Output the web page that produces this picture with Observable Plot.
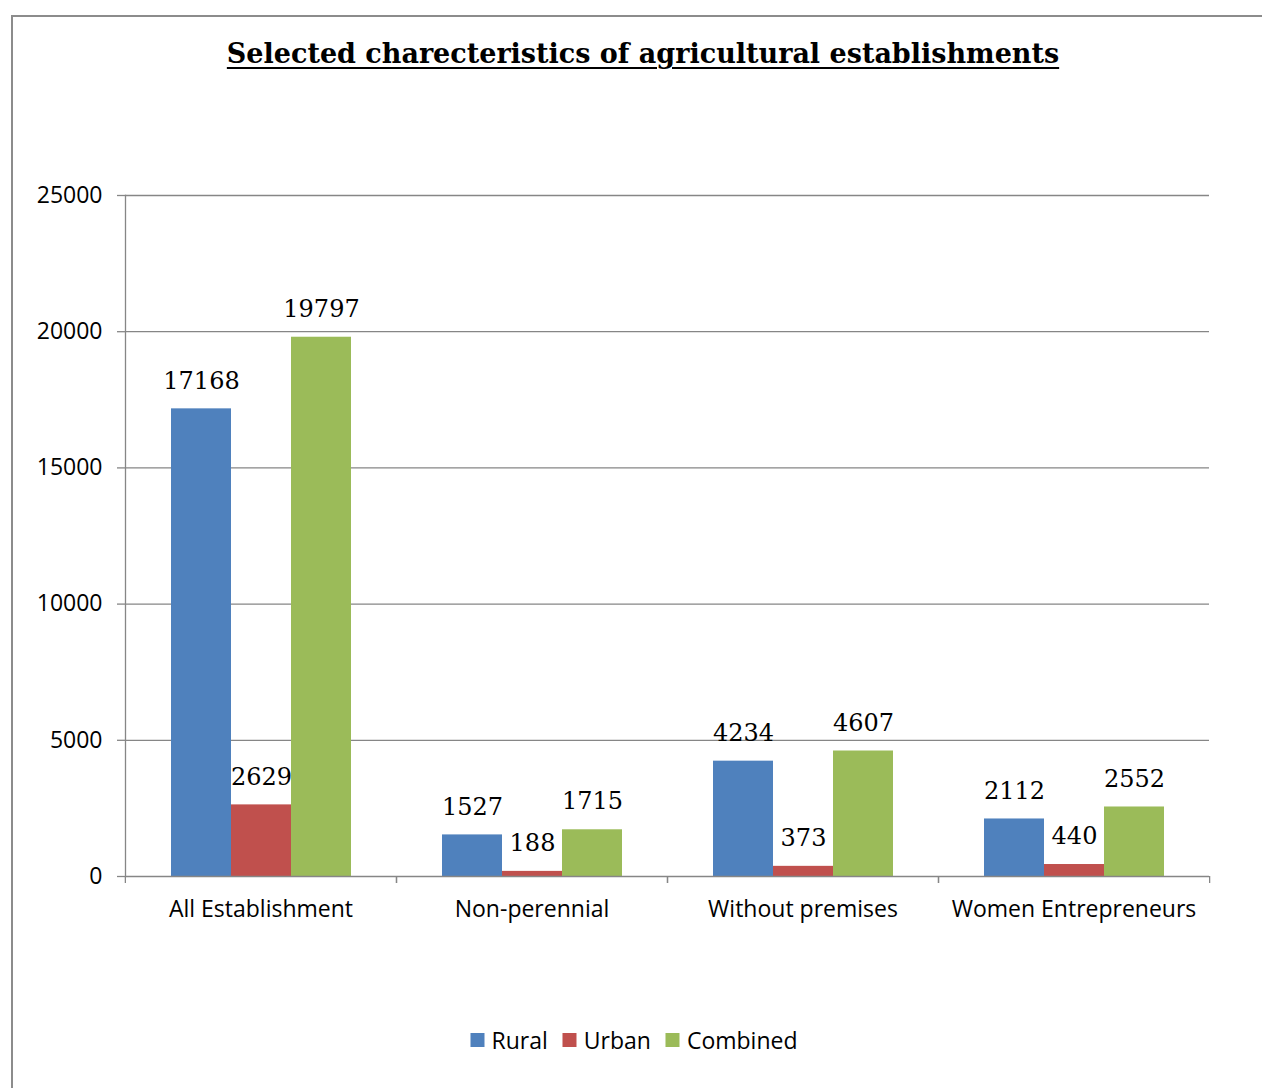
<!DOCTYPE html>
<html>
<head>
<meta charset="utf-8">
<script src="https://cdn.jsdelivr.net/npm/d3@7"></script>
<script src="https://cdn.jsdelivr.net/npm/@observablehq/plot@0.6"></script>
<style>
  html, body { margin: 0; padding: 0; background: #fff; }
  body { width: 1262px; height: 1088px; position: relative; overflow: hidden; }
  #frame { position: absolute; left: 11px; top: 15px; width: 1400px; height: 1200px; border: 2px solid #8c8c8c; box-sizing: border-box; }
  #title { position: absolute; top: 38px; left: 643px; transform: translateX(-50%); white-space: nowrap;
           font-family: "DejaVu Serif", serif; font-weight: bold; font-size: 27px; letter-spacing: 0px;
           text-decoration: underline; text-decoration-thickness: 2px; text-underline-offset: 4px; color: #000; }
  #chart { position: absolute; left: 0; top: 0; }
  #legend { position: absolute; top: 1024px; left: 634px; transform: translateX(-50%); display: flex; gap: 15px;
            font-family: "Open Sans", sans-serif; font-size: 23px; color: #000; white-space: nowrap; align-items: center; }
  #legend .item { display: flex; align-items: center; gap: 7px; }
  #legend .sw { width: 14px; height: 14px; display: inline-block; }
</style>
</head>
<body>
<div id="frame"></div>
<div id="title">Selected charecteristics of agricultural establishments</div>
<div id="chart"></div>
<div id="legend"></div>
<script>
const categories = ["All Establishment", "Non-perennial", "Without premises", "Women Entrepreneurs"];
const series = ["Rural", "Urban", "Combined"];
const rural = [17168, 1527, 4234, 2112];
const urban = [2629, 188, 373, 440];
const combined = [19797, 1715, 4607, 2552];
const colors = ["#4F81BD", "#C0504D", "#9BBB59"];
const yTicks = [0, 5000, 10000, 15000, 20000, 25000];

const seriesValues = [rural, urban, combined];
const data = [];
categories.forEach((c, i) => {
  series.forEach((s, j) => {
    data.push({category: c, series: s, value: seriesValues[j][i]});
  });
});

const W = 1262, H = 960;
const mL = 124, mR = 53, mT = 195, mB = 84;
const halfStep = (W - mL - mR) / categories.length / 2;
const axisColor = "#868686";

const chart = Plot.plot({
  width: W,
  height: H,
  marginLeft: mL,
  marginRight: mR,
  marginTop: mT,
  marginBottom: mB,
  style: {background: "transparent", overflow: "visible"},
  fx: {domain: categories, padding: 0, axis: null, label: null},
  x: {domain: series, paddingInner: 0, paddingOuter: 0.758, axis: null, label: null},
  y: {domain: [0, 25000], axis: null, label: null},
  color: {domain: series, range: colors},
  marks: [
    Plot.ruleY(yTicks.slice(1), {stroke: axisColor, strokeWidth: 1.3}),
    Plot.barY(data, {fx: "category", x: "series", y: "value", fill: "series", inset: 0}),
    Plot.text(data, {fx: "category", x: "series", y: "value", text: d => String(d.value), dy: -28,
      fontFamily: "DejaVu Serif, serif", fontSize: 24, fill: "#000"}),
    Plot.ruleY([0], {stroke: axisColor, strokeWidth: 1.3}),
    Plot.frame({anchor: "left", facetAnchor: "left", stroke: axisColor, strokeWidth: 1.3}),
    Plot.axisY(yTicks, {anchor: "left", label: null, tickSize: 8, tickPadding: 15, tickFormat: "d", fontSize: 23,
      fontFamily: "Open Sans, sans-serif", stroke: axisColor, fill: "#000", strokeWidth: 1.3}),
    Plot.axisFx({anchor: "bottom", label: null, tickSize: 0, tickPadding: 24, fontSize: 23,
      fontFamily: "Open Sans, sans-serif", fill: "#000"}),
    Plot.axisFx({anchor: "bottom", label: null, tickSize: 7, tickFormat: () => "", dx: -halfStep, stroke: axisColor, strokeWidth: 1.3}),
    Plot.axisFx({anchor: "bottom", label: null, tickSize: 7, tickFormat: () => "", dx: halfStep, stroke: axisColor, strokeWidth: 1.3})
  ]
});
document.getElementById("chart").appendChild(chart);

const legend = document.getElementById("legend");
series.forEach((s, i) => {
  const item = document.createElement("span");
  item.className = "item";
  const sw = document.createElement("span");
  sw.className = "sw";
  sw.style.background = colors[i];
  const label = document.createElement("span");
  label.textContent = s;
  item.appendChild(sw);
  item.appendChild(label);
  legend.appendChild(item);
});
</script>
</body>
</html>
